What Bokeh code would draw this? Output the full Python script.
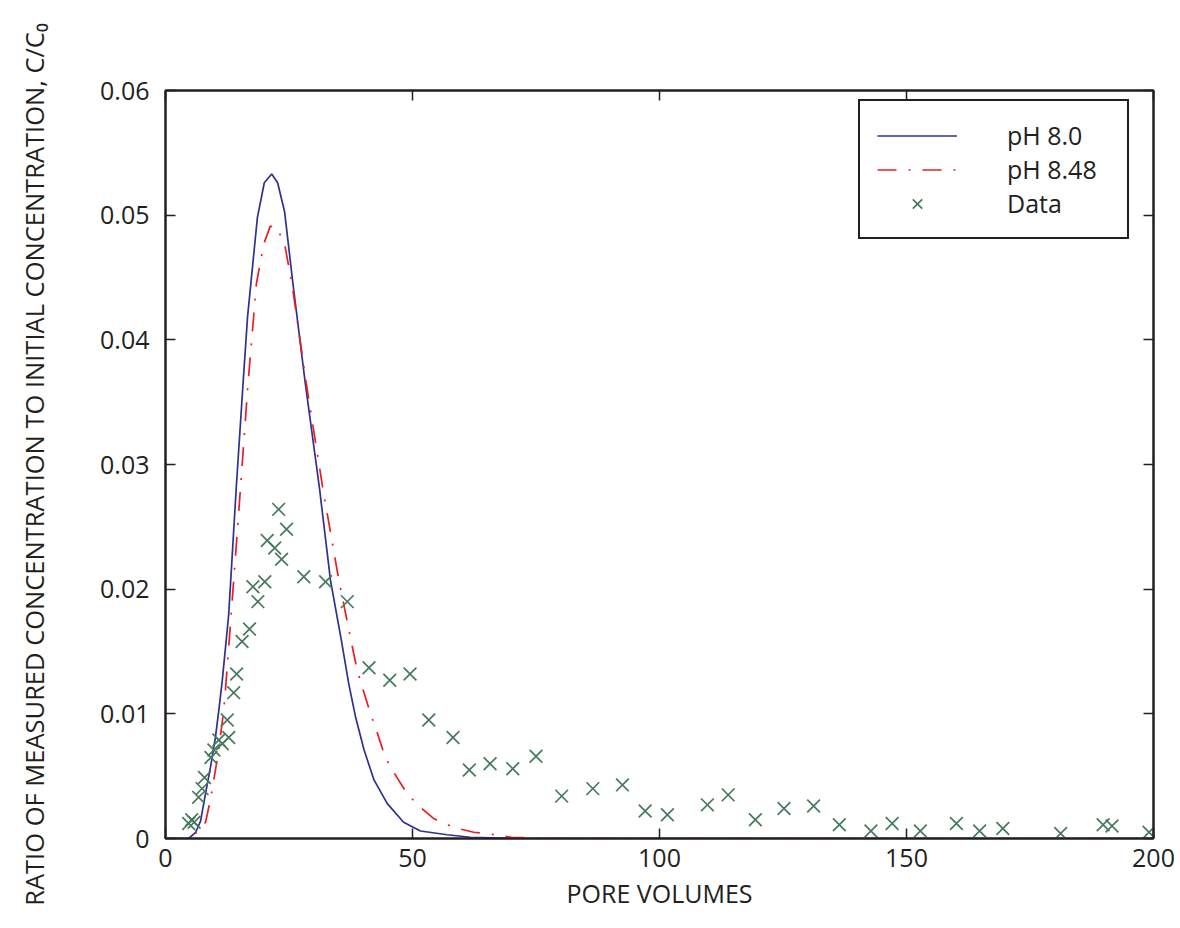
from bokeh.plotting import figure
from bokeh.models import (Range1d, FixedTicker, CustomJSTickFormatter, LinearAxis,
                          Legend, LegendItem)
from bokeh.embed import file_html
from bokeh.resources import INLINE

# ---- data ----
ph80_x = [0, 4.7, 6.1, 7.1, 8.1, 9.1, 10.1, 10.8, 11.5, 12.8, 14.3, 15.7, 16.6, 18.6,
          20.0, 21.5, 22.7, 24.1, 25.8, 28.3, 31.2, 33.4, 35.6, 37.1, 38.5, 40.2,
          42.2, 44.9, 48.2, 51.6, 57.0, 61.7, 70.0, 200]
ph80_y = [0, 0, 0.0005, 0.0014, 0.0036, 0.0057, 0.0081, 0.0103, 0.0127, 0.0180,
          0.0280, 0.0365, 0.0418, 0.0498, 0.0526, 0.0533, 0.0526, 0.0503, 0.0445,
          0.0365, 0.0280, 0.0207, 0.0159, 0.0124, 0.0097, 0.0071, 0.0047, 0.0028,
          0.0013, 0.0006, 0.0003, 0.0001, 0.0, 0.0]

ph848_x = [0, 4.5, 6.4, 8.1, 9.2, 10.2, 10.9, 11.6, 12.0, 13.3, 15.2, 16.7, 18.4,
           19.9, 21.2, 22.4, 24.1, 25.6, 28.5, 31.8, 35.1, 37.6, 38.8, 41.5, 42.6,
           44.5, 45.9, 48.9, 51.3, 54.3, 56.3, 59.3, 62.4, 65.1, 70.0, 80.0, 200]
ph848_y = [0, 0, 0.0005, 0.0013, 0.0033, 0.0057, 0.0075, 0.0097, 0.0112, 0.0180,
           0.0282, 0.0365, 0.0445, 0.0477, 0.0491, 0.0491, 0.0477, 0.0445, 0.0365,
           0.0282, 0.0207, 0.0158, 0.0135, 0.0100, 0.0088, 0.0065, 0.0055, 0.0036,
           0.0026, 0.0016, 0.0012, 0.0008, 0.0005, 0.0004, 0.0001, 0.0, 0.0]

data_x = [4.7, 5.3, 5.8, 6.7, 7.4, 7.9, 9.2, 9.8, 10.8, 11.5, 12.5, 12.8, 13.8, 14.4,
          15.5, 17.0, 17.7, 18.7, 20.1, 20.6, 22.1, 22.9, 23.5, 24.5, 28.0, 32.4,
          36.8, 41.2, 45.4, 49.5, 53.3, 58.2, 61.5, 65.7, 70.3, 75.0, 80.2, 86.5,
          92.5, 97.1, 101.6, 109.7, 113.9, 119.4, 125.2, 131.2, 136.4, 142.8, 147.1,
          152.8, 160.1, 164.8, 169.5, 181.2, 189.8, 191.6, 199.1]
data_y = [0.0012, 0.0015, 0.0013, 0.0033, 0.0040, 0.0049, 0.0065, 0.0071, 0.0079,
          0.0076, 0.0095, 0.0081, 0.0117, 0.0132, 0.0158, 0.0168, 0.0202, 0.0190,
          0.0206, 0.0239, 0.0233, 0.0264, 0.0224, 0.0248, 0.0210, 0.0206, 0.0190,
          0.0137, 0.0127, 0.0132, 0.0095, 0.0081, 0.0055, 0.0060, 0.0056, 0.0066,
          0.0034, 0.0040, 0.0043, 0.0022, 0.0019, 0.0027, 0.0035, 0.0015, 0.0024,
          0.0026, 0.0011, 0.0006, 0.0012, 0.0006, 0.0012, 0.0006, 0.0008, 0.0004,
          0.0011, 0.0010, 0.0005]

x_ticks = [0, 50, 100, 150, 200]
y_ticks = [0, 0.01, 0.02, 0.03, 0.04, 0.05, 0.06]
legend_labels = ["pH 8.0", "pH 8.48", "Data"]
x_label = "PORE VOLUMES"
y_label = "RATIO OF MEASURED CONCENTRATION TO INITIAL CONCENTRATION, C/C\u2080"

FONT = "Open Sans"
TXT = "#231f20"
BLUE = "#2e3192"
RED = "#ed1c24"
GREEN = "#467a5c"

p = figure(width=1180, height=928, output_backend="svg", toolbar_location=None,
           x_range=Range1d(0, 200), y_range=Range1d(0, 0.06),
           min_border_left=165, min_border_right=27, min_border_top=90,
           min_border_bottom=90)
p.background_fill_color = "white"
p.border_fill_color = "white"
p.outline_line_color = TXT
p.outline_line_width = 2
p.outline_line_alpha = 1
p.xgrid.visible = False
p.ygrid.visible = False

r1 = p.line(ph80_x, ph80_y, line_color=BLUE, line_width=1.7)
r2 = p.line(ph848_x, ph848_y, line_color=RED, line_width=1.7, line_dash="19 12 2 12")
r3 = p.scatter(data_x, data_y, marker="x", size=18, line_color=GREEN, line_width=1.7)

yfmt = CustomJSTickFormatter(code="return tick == 0 ? '0' : tick.toFixed(2);")

def style_axis(ax, labels=True):
    ax.axis_line_color = TXT
    ax.axis_line_width = 2
    ax.major_tick_line_color = TXT
    ax.major_tick_line_width = 1.5
    ax.major_tick_in = 10
    ax.major_tick_out = 0
    ax.minor_tick_line_color = None
    ax.major_label_text_font = FONT
    ax.major_label_text_color = TXT
    if labels:
        ax.major_label_text_font_size = "25px"
    else:
        ax.major_label_text_font_size = "0px"
        ax.major_label_text_alpha = 0

xa = p.xaxis[0]
xa.ticker = FixedTicker(ticks=x_ticks)
style_axis(xa)
xa.major_label_standoff = 10
xa.axis_label = x_label
xa.axis_label_text_font = FONT
xa.axis_label_text_font_size = "25px"
xa.axis_label_text_font_style = "normal"
xa.axis_label_text_color = TXT
xa.axis_label_standoff = 6

ya = p.yaxis[0]
ya.ticker = FixedTicker(ticks=y_ticks)
ya.formatter = yfmt
style_axis(ya)
ya.major_label_standoff = 16
ya.axis_label = y_label
ya.axis_label_text_font = FONT
ya.axis_label_text_font_size = "25.5px"
ya.axis_label_text_font_style = "normal"
ya.axis_label_text_color = TXT
ya.axis_label_standoff = 46

top = LinearAxis(ticker=FixedTicker(ticks=x_ticks))
style_axis(top, labels=False)
p.add_layout(top, "above")
right = LinearAxis(ticker=FixedTicker(ticks=y_ticks))
style_axis(right, labels=False)
p.add_layout(right, "right")

legend = Legend(items=[LegendItem(label=legend_labels[0], renderers=[r1]),
                       LegendItem(label=legend_labels[1], renderers=[r2]),
                       LegendItem(label=legend_labels[2], renderers=[r3])],
                location=(693, 599))
legend.border_line_color = TXT
legend.border_line_width = 2
legend.border_line_alpha = 1
legend.background_fill_color = "white"
legend.background_fill_alpha = 1
legend.label_text_font = FONT
legend.label_text_font_size = "25px"
legend.label_text_color = TXT
legend.glyph_width = 80
legend.glyph_height = 33
legend.label_height = 33
legend.label_width = 103
legend.label_standoff = 50
legend.spacing = 0
legend.padding = 17
legend.margin = 0
p.add_layout(legend, "center")

open("out.html", "w").write(file_html(p, INLINE))
